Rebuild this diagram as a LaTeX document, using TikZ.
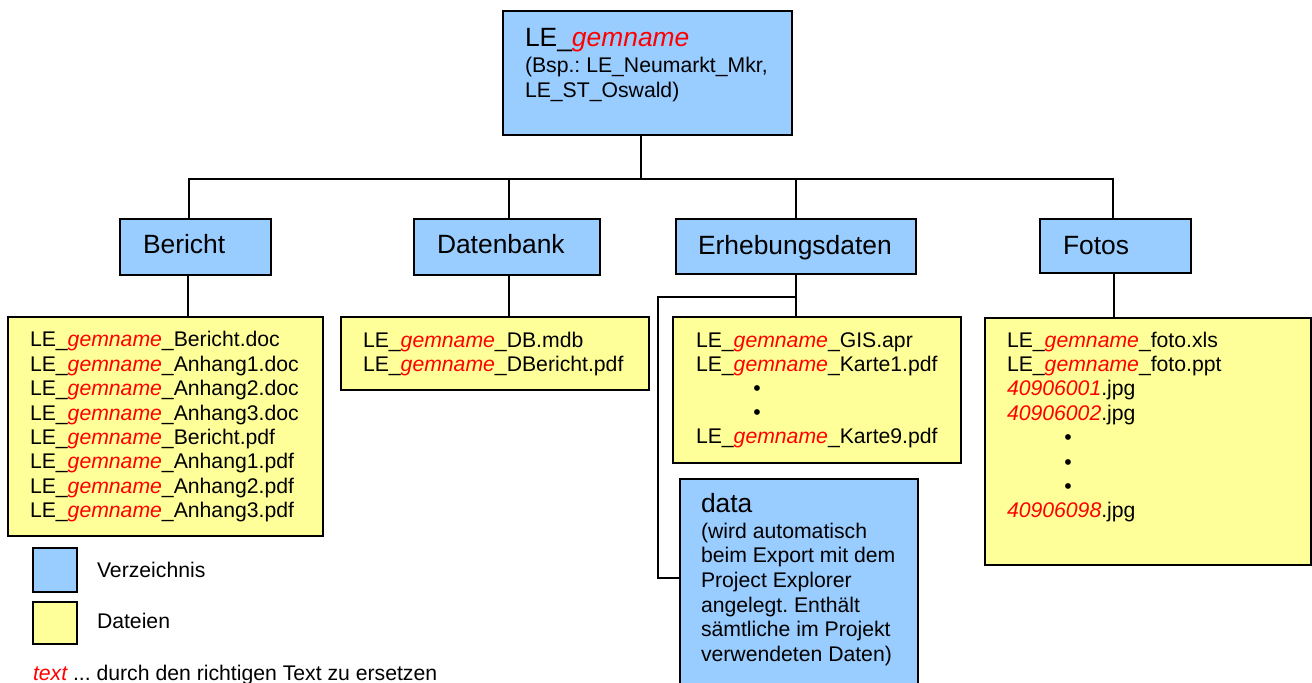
\documentclass[tikz,border=0pt]{standalone}
\usepackage{fontspec}
\setmainfont{Liberation Sans}
\usetikzlibrary{fit}
\definecolor{dirblue}{HTML}{99CCFF}
\definecolor{fileyellow}{HTML}{FFFF99}
\newcommand{\rt}[1]{\textcolor{red}{\itshape #1}}
\newcommand{\gem}{\rt{gemname}}
\frenchspacing

\begin{document}
\begin{tikzpicture}[x=0.5pt,y=-0.5pt,line width=1pt,
  dirbox/.style={draw,fill=dirblue,inner sep=0pt},
  filebox/.style={draw,fill=fileyellow,inner sep=0pt},
  txt/.style={anchor=base west,inner sep=0pt,font=\fontsize{10.6}{12.2}\selectfont},
  head/.style={txt,font=\fontsize{13.2}{15}\selectfont}]
\useasboundingbox (0,0) rectangle (1312,682);

% Verzeichnisse
\node[dirbox,fit={(503,11) (792,135)}] (root) {};
\node[dirbox,fit={(120,219) (271,275)}] (bericht) {};
\node[dirbox,fit={(414,219) (600,275)}] (datenbank) {};
\node[dirbox,fit={(676,219) (916,274)}] (erheb) {};
\node[dirbox,fit={(1040,219) (1191,273)}] (fotos) {};
\node[dirbox,fit={(680,479) (918,700)}] (data) {};

% Dateien
\node[filebox,fit={(8,317) (323,536)}] (berfiles) {};
\node[filebox,fit={(341,317) (649,390)}] (dbfiles) {};
\node[filebox,fit={(673,317) (961,463)}] (erhfiles) {};
\node[filebox,fit={(985,318) (1311,565)}] (fotofiles) {};

% Legende
\node[dirbox,fit={(33,548) (77,592)}] (legdir) {};
\node[filebox,fit={(33,602) (77,644)}] (legfile) {};

% Verbindungen
\coordinate (bus) at (641,179);
\coordinate (bend) at (658,297);
\coordinate (datain) at (680,578);
\draw (root.south -| bus) -- (bus);
\draw ([xshift=-3.25pt]bericht.north) |- (bus) -| ([xshift=-1.25pt]fotos.north);
\draw ([xshift=1pt]datenbank.north) -- ([xshift=1pt]datenbank.north |- bus);
\draw (erheb.north) -- (erheb.north |- bus);
\draw ([xshift=-4pt]bericht.south) -- ([xshift=-4pt]bericht.south |- berfiles.north);
\draw ([xshift=1pt]datenbank.south) -- ([xshift=1pt]datenbank.south |- dbfiles.north);
\draw (erheb.south) -- (erheb.south |- erhfiles.north);
\draw (erheb.south |- bend) -- (bend) |- (datain);
\draw ([xshift=-0.75pt]fotos.south) -- ([xshift=-0.75pt]fotos.south |- fotofiles.north);

% Texte
\node[head] (roott) at (524,46) {LE\_\gem};
\node[txt] (bsp1) at (524,72.5) {(Bsp.: LE\_Neumarkt\_Mkr,};
\node[txt] (bsp2) at (524,97) {LE\_ST\_Oswald)};
\node[head] (bert) at (142,253) {Bericht};
\node[head] (dbt) at (436,253) {Datenbank};
\node[head] (erht) at (697,254) {Erhebungsdaten};
\node[head] (fotot) at (1062,254) {Fotos};
\node[head] (datat) at (700,512) {data};

\foreach \f [count=\i from 0] in {Bericht.doc,Anhang1.doc,Anhang2.doc,Anhang3.doc,
    Bericht.pdf,Anhang1.pdf,Anhang2.pdf,Anhang3.pdf}
  \node[txt] (ber\i) at (29,346.7+24.43*\i) {LE\_\gem\_\f};
\foreach \f [count=\i from 0] in {DB.mdb,DBericht.pdf}
  \node[txt] (db\i) at (362,347+24.6*\i) {LE\_\gem\_\f};
\foreach \t [count=\i from 0] in {{LE\_\gem\_GIS.apr},{LE\_\gem\_Karte1.pdf},
    {\hspace*{28.7pt}\textbullet},{\hspace*{28.7pt}\textbullet},{LE\_\gem\_Karte9.pdf}}
  \node[txt] (erh\i) at (695,347+24.2*\i) {\t};
\foreach \t [count=\i from 0] in {{LE\_\gem\_foto.xls},{LE\_\gem\_foto.ppt},
    {\rt{40906001}.jpg},{\rt{40906002}.jpg},{\hspace*{28.7pt}\textbullet},
    {\hspace*{28.7pt}\textbullet},{\hspace*{28.7pt}\textbullet},{\rt{40906098}.jpg}}
  \node[txt] (foto\i) at (1006,347+24.4*\i) {\t};
\foreach \t [count=\i from 0] in {{(wird automatisch},{beim Export mit dem},
    {Project Explorer},{angelegt. Enthält},{sämtliche im Projekt},{verwendeten Daten)}}
  \node[txt] (data\i) at (700,538+24.7*\i) {\t};

\node[txt] (legdirt) at (96,577) {Verzeichnis};
\node[txt] (legfilet) at (96,628) {Dateien};
\node[txt] (hint) at (32,680) {\rt{text} ... durch den richtigen Text zu ersetzen};
\end{tikzpicture}
\end{document}
